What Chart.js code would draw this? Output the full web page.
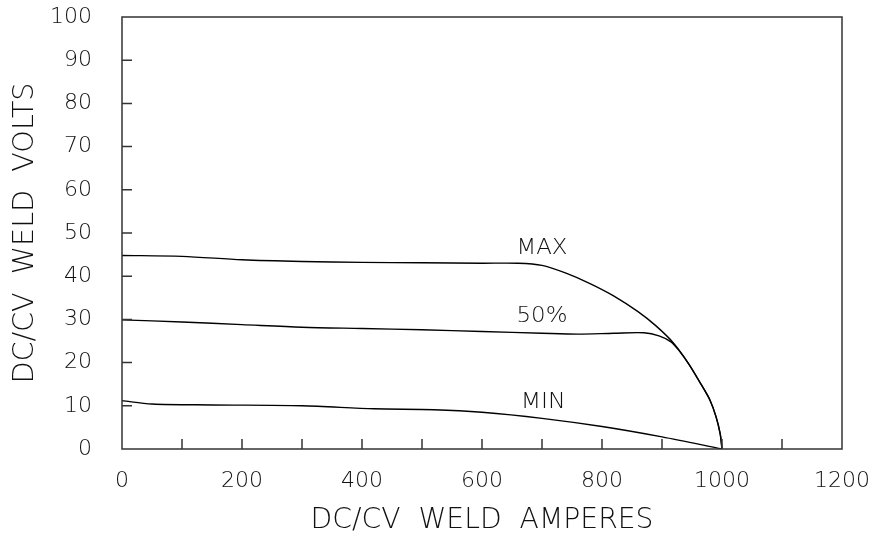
<!DOCTYPE html>
<html>
<head>
<meta charset="utf-8">
<script src="https://cdn.jsdelivr.net/npm/chart.js@4/dist/chart.umd.min.js"></script>
<style>
  html, body { margin: 0; padding: 0; background: #fff; }
  canvas { display: block; }
</style>
</head>
<body>
<canvas id="weldChart" width="879" height="540"></canvas>
<script>
// Courbes (ampères / volts)
const ampsMax = [0, 100, 200, 300, 400, 500, 600, 660, 700, 740, 780, 820, 860, 890, 920, 945, 965, 980, 990, 997, 1000];
const voltsMax = [44.8, 44.6, 43.8, 43.4, 43.2, 43.1, 43.0, 43.0, 42.5, 40.7, 38.3, 35.4, 31.8, 28.5, 24.4, 19.6, 15.0, 11.3, 7.5, 3.5, 0];

const amps50 = [0, 100, 200, 300, 400, 500, 600, 700, 760, 820, 870, 895, 915, 930, 945, 965, 980, 990, 997, 1000];
const volts50 = [29.9, 29.4, 28.8, 28.2, 27.9, 27.6, 27.2, 26.8, 26.6, 26.8, 26.9, 26.2, 24.8, 22.5, 19.6, 15.0, 11.3, 7.5, 3.5, 0];

const ampsMin = [0, 50, 150, 300, 420, 520, 600, 700, 800, 900, 1000];
const voltsMin = [11.2, 10.4, 10.2, 10.0, 9.3, 9.1, 8.5, 7.1, 5.2, 2.8, 0];

// Étiquettes des courbes : texte, ampères, volts
const curveLabels = ["MAX", "50%", "MIN"];
const curveLabelAmps = [700, 700, 702];
const curveLabelVolts = [46.5, 30.6, 10.7];

const xTitle = "DC/CV  WELD  AMPERES";
const yTitle = "DC/CV  WELD  VOLTS";

const FONT = "'DejaVu Sans', sans-serif";

function toPoints(xs, ys) {
  return xs.map((x, i) => ({ x: x, y: ys[i] }));
}

// Texte étiré horizontalement pour imiter la police du tracé d'origine
function stretchedText(ctx, text, x, y, size, width, angle) {
  ctx.save();
  ctx.font = "300 " + size + "px " + FONT;
  ctx.fillStyle = "#111";
  ctx.textAlign = "center";
  ctx.textBaseline = "middle";
  const w = ctx.measureText(text).width;
  ctx.translate(x, y);
  if (angle) ctx.rotate(angle);
  ctx.scale(width / w, 1);
  ctx.fillText(text, 0, 0);
  ctx.restore();
}

const framePlugin = {
  id: "frame",
  afterDatasetsDraw(chart) {
    const ctx = chart.ctx;
    const area = chart.chartArea;
    const xs = chart.scales.x;
    const ys = chart.scales.y;

    ctx.save();
    ctx.strokeStyle = "#333";
    ctx.lineWidth = 1.5;
    ctx.strokeRect(area.left, area.top, area.right - area.left, area.bottom - area.top);

    // Graduations vers l'intérieur
    ctx.beginPath();
    for (let v = 100; v < 1200; v += 100) {
      const px = xs.getPixelForValue(v);
      ctx.moveTo(px, area.bottom);
      ctx.lineTo(px, area.bottom - 10);
    }
    for (let v = 10; v < 100; v += 10) {
      const py = ys.getPixelForValue(v);
      ctx.moveTo(area.left, py);
      ctx.lineTo(area.left + 10, py);
    }
    ctx.stroke();
    ctx.restore();

    // Noms des courbes
    curveLabels.forEach((label, i) => {
      const px = xs.getPixelForValue(curveLabelAmps[i]);
      const py = ys.getPixelForValue(curveLabelVolts[i]);
      stretchedText(ctx, label, px, py, 21, label === "MIN" ? 45 : 51, 0);
    });

    // Titres des axes
    stretchedText(ctx, xTitle, (area.left + area.right) / 2, 521, 28, 343, 0);
    stretchedText(ctx, yTitle, 26, (area.top + area.bottom) / 2, 28, 301, -Math.PI / 2);
  },
};

const ctx = document.getElementById("weldChart").getContext("2d");

new Chart(ctx, {
  type: "line",
  data: {
    datasets: [
      { label: "MAX", data: toPoints(ampsMax, voltsMax) },
      { label: "50%", data: toPoints(amps50, volts50) },
      { label: "MIN", data: toPoints(ampsMin, voltsMin) },
    ].map((d) => Object.assign(d, {
      borderColor: "#000",
      borderWidth: 1.4,
      pointRadius: 0,
      fill: false,
      tension: 0.3,
    })),
  },
  options: {
    responsive: false,
    animation: false,
    devicePixelRatio: 1,
    layout: { padding: { top: 17, right: 37, left: 0, bottom: 0 } },
    plugins: {
      legend: { display: false },
      tooltip: { enabled: false },
    },
    scales: {
      x: {
        type: "linear",
        min: 0,
        max: 1200,
        grid: { display: false },
        border: { display: false },
        afterFit: (scale) => {
          scale.height = 91;
          scale.paddingLeft = 0;
          scale.paddingRight = 0;
        },
        ticks: {
          stepSize: 100,
          autoSkip: false,
          maxRotation: 0,
          padding: 11,
          color: "#111",
          font: { family: FONT, size: 22, weight: "300" },
          callback: (v) => (v % 200 === 0 ? String(v) : ""),
        },
      },
      y: {
        type: "linear",
        min: 0,
        max: 100,
        grid: { display: false },
        border: { display: false },
        afterFit: (scale) => {
          scale.width = 122;
          scale.paddingTop = 0;
          scale.paddingBottom = 0;
        },
        ticks: {
          stepSize: 10,
          padding: 22,
          color: "#111",
          font: { family: FONT, size: 22, weight: "300" },
        },
      },
    },
  },
  plugins: [framePlugin],
});
</script>
</body>
</html>
